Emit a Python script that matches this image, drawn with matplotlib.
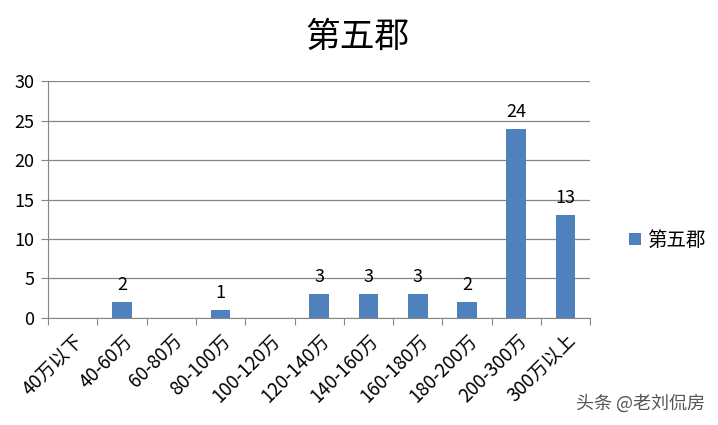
import matplotlib.pyplot as plt
import numpy as np

plt.rcParams['font.family'] = ['Noto Sans CJK SC', 'DejaVu Sans']

categories = ["40万以下", "40-60万", "60-80万", "80-100万", "100-120万", "120-140万",
              "140-160万", "160-180万", "180-200万", "200-300万", "300万以上"]
counts = [0, 2, 0, 1, 0, 3, 3, 3, 2, 24, 13]
series_name = "第五郡"

fig = plt.figure(figsize=(7.18, 4.25), dpi=100)
ax = fig.add_axes([0.067, 0.252, 0.755, 0.557])

x = np.arange(len(categories))
bars = ax.bar(x, counts, width=0.4, color='#4F81BD', label=series_name, zorder=3)

# value labels, skip the empty bins
for xi, v in zip(x, counts):
    if v > 0:
        ax.text(xi, v + 1.0, str(v), ha='center', va='bottom', fontsize=13, color='black')

ax.set_xlim(-0.5, len(categories) - 0.5)
ax.set_ylim(0, 30)
ax.set_yticks(range(0, 31, 5))
ax.tick_params(axis='y', labelsize=13, length=5, color='#868686', pad=5)
ax.yaxis.grid(True, color='#868686', linewidth=0.9, zorder=0)

# ticks on category boundaries, labels at category centres
ax.set_xticks(np.arange(-0.5, len(categories) + 0.5, 1))
ax.set_xticklabels([])
ax.set_xticks(x, minor=True)
ax.set_xticklabels(categories, minor=True, rotation=45, ha='right',
                   rotation_mode='anchor', fontsize=13.5)
ax.tick_params(axis='x', which='major', length=5, color='#868686')
ax.tick_params(axis='x', which='minor', length=0, pad=9)

for side in ['top', 'right']:
    ax.spines[side].set_visible(False)
for side in ['left', 'bottom']:
    ax.spines[side].set_color('#868686')

fig.text(0.498, 0.912, series_name, ha='center', va='center', fontsize=25)

fig.legend(handles=[bars], labels=[series_name], loc='center left',
           bbox_to_anchor=(0.852, 0.435), frameon=False, fontsize=14,
           handlelength=0.6, handleheight=0.6, handletextpad=0.3)

fig.text(0.982, 0.05, "头条 @老刘侃房", ha='right', va='center', fontsize=13, color='#555555')

fig.savefig('out.png', dpi=100)
